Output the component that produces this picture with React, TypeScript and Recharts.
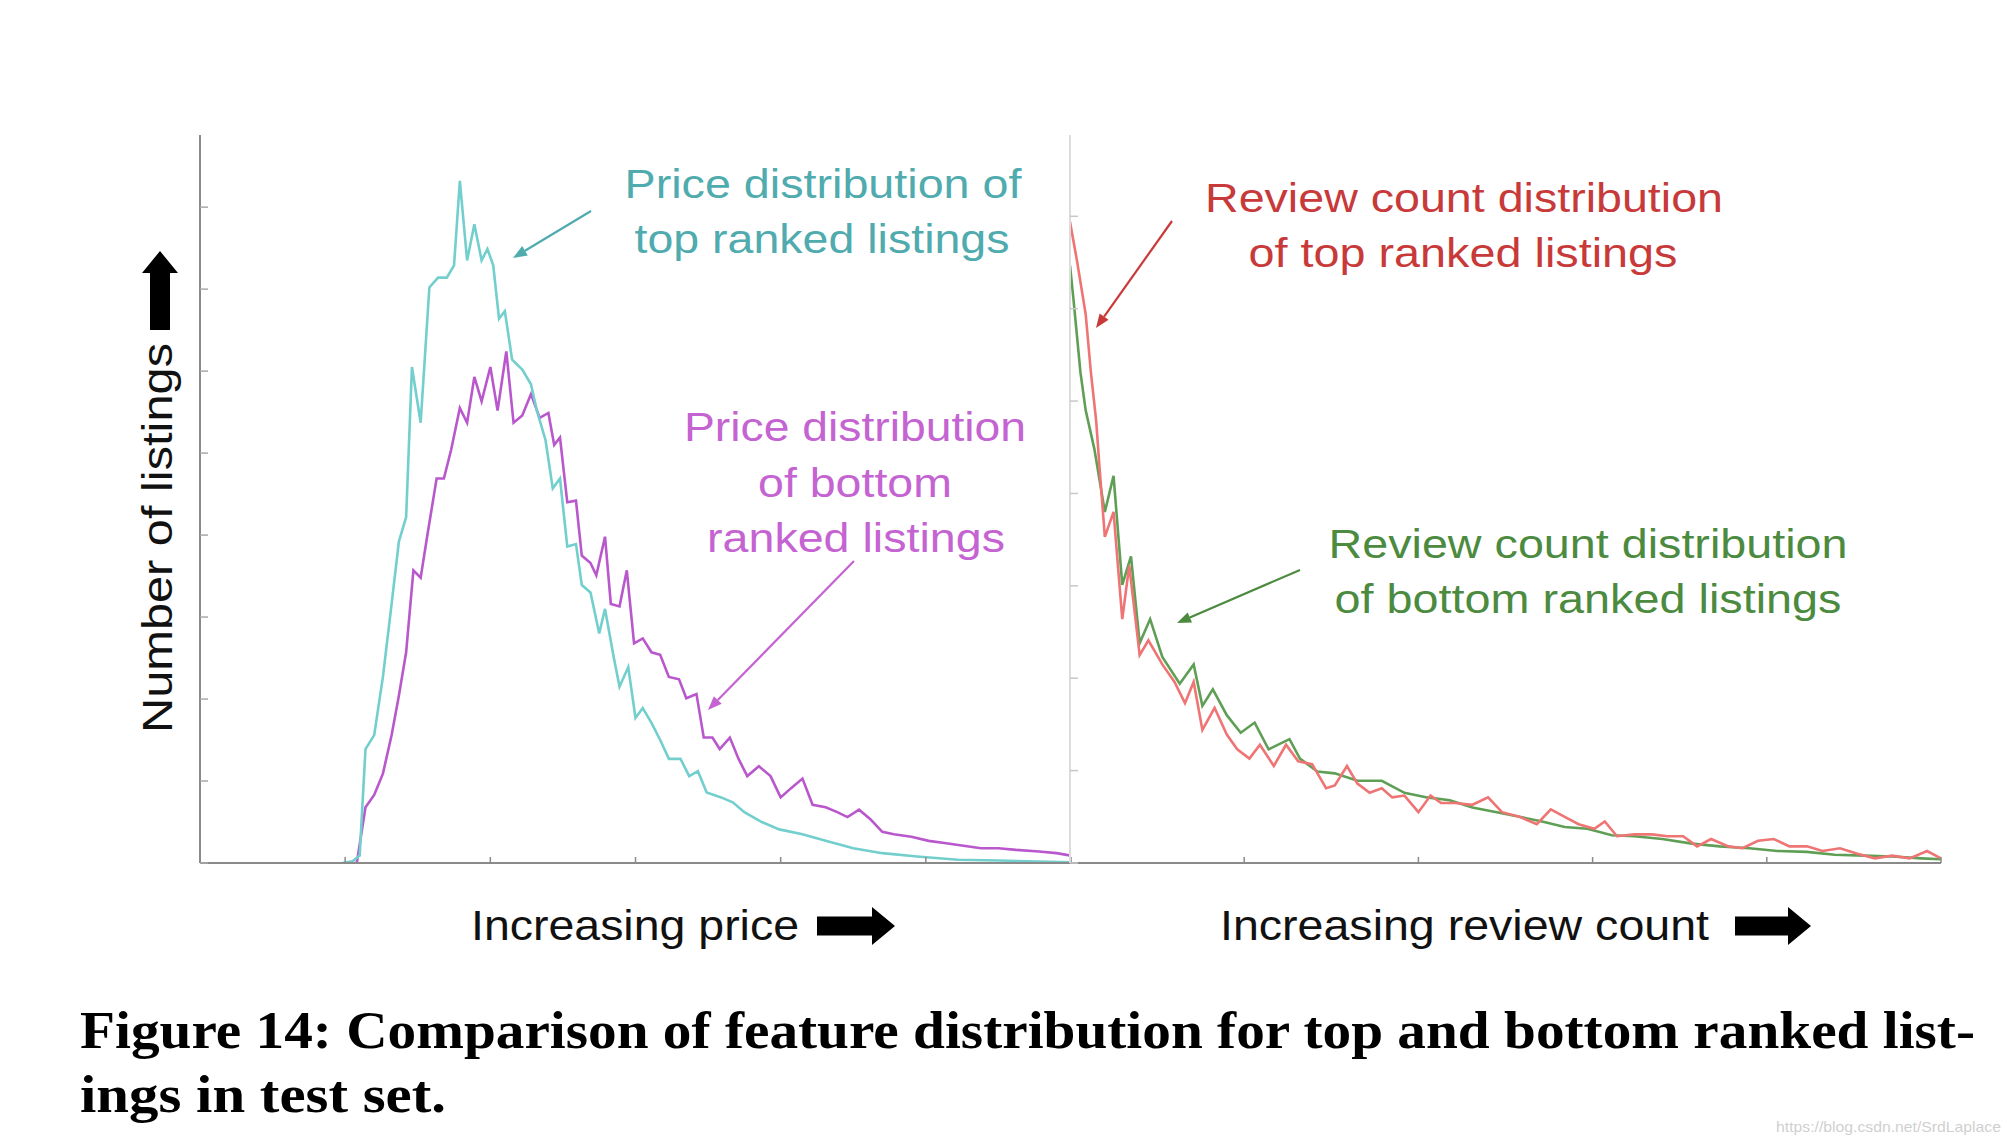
import React from 'react';
import { LineChart, Line, XAxis, YAxis } from 'recharts';

// price histogram (left panel): [x position, count], x in tick units 0..6
const topPrice: [number, number][] = [
  [0.98, 0], [1.05, 0.02], [1.1, 0.09], [1.14, 1.39], [1.2, 1.56], [1.26, 2.27], [1.32, 3.16],
  [1.37, 3.92], [1.42, 4.22], [1.46, 6.05], [1.52, 5.37], [1.58, 7.02], [1.64, 7.14], [1.7, 7.14],
  [1.75, 7.29], [1.79, 8.32], [1.84, 7.35], [1.89, 7.79], [1.94, 7.35], [1.98, 7.49], [2.02, 7.29],
  [2.06, 6.64], [2.1, 6.73], [2.15, 6.14], [2.22, 6.02], [2.28, 5.84], [2.32, 5.52], [2.38, 5.16],
  [2.43, 4.57], [2.48, 4.69], [2.53, 3.86], [2.59, 3.89], [2.63, 3.39], [2.69, 3.3], [2.75, 2.8],
  [2.79, 3.1], [2.85, 2.51], [2.89, 2.15], [2.95, 2.39], [3.0, 1.77], [3.05, 1.89], [3.11, 1.71],
  [3.17, 1.5], [3.23, 1.27], [3.31, 1.27], [3.37, 1.06], [3.43, 1.12], [3.49, 0.86], [3.59, 0.8],
  [3.67, 0.74], [3.75, 0.62], [3.87, 0.5], [3.99, 0.41], [4.15, 0.35], [4.31, 0.27], [4.5, 0.18],
  [4.7, 0.12], [4.94, 0.08], [5.22, 0.04], [5.5, 0.03], [6.0, 0.01],
];

const bottomPrice: [number, number][] = [
  [1.02, 0], [1.08, 0], [1.14, 0.68], [1.2, 0.83], [1.26, 1.09], [1.32, 1.56], [1.37, 2.04],
  [1.42, 2.57], [1.47, 3.57], [1.52, 3.48], [1.57, 4.04], [1.63, 4.69], [1.68, 4.69], [1.73, 5.04],
  [1.79, 5.55], [1.84, 5.37], [1.89, 5.93], [1.94, 5.63], [2.0, 6.05], [2.05, 5.52], [2.11, 6.24],
  [2.16, 5.37], [2.22, 5.46], [2.28, 5.72], [2.34, 5.43], [2.4, 5.49], [2.44, 5.1], [2.48, 5.19],
  [2.53, 4.4], [2.59, 4.42], [2.63, 3.75], [2.69, 3.66], [2.73, 3.51], [2.79, 3.98], [2.83, 3.16],
  [2.89, 3.13], [2.94, 3.57], [2.99, 2.68], [3.05, 2.74], [3.11, 2.57], [3.17, 2.54], [3.23, 2.27],
  [3.3, 2.24], [3.35, 2.01], [3.42, 2.06], [3.47, 1.53], [3.53, 1.53], [3.58, 1.39], [3.65, 1.53],
  [3.71, 1.27], [3.77, 1.06], [3.85, 1.18], [3.93, 1.06], [4.0, 0.8], [4.07, 0.91], [4.15, 1.03],
  [4.22, 0.71], [4.31, 0.68], [4.39, 0.62], [4.46, 0.56], [4.54, 0.65], [4.62, 0.53], [4.7, 0.38],
  [4.78, 0.35], [4.9, 0.32], [5.02, 0.27], [5.14, 0.24], [5.26, 0.21], [5.38, 0.18], [5.5, 0.18],
  [5.62, 0.16], [5.78, 0.14], [5.9, 0.12], [6.0, 0.09],
];

// review count histogram (right panel): x in tick units 0..5
const topReview: [number, number][] = [
  [0, 6.94], [0.04, 6.52], [0.09, 5.94], [0.12, 5.31], [0.15, 4.79], [0.17, 4.27], [0.2, 3.53],
  [0.25, 3.8], [0.3, 2.64], [0.34, 3.22], [0.4, 2.25], [0.45, 2.41], [0.53, 2.15], [0.6, 1.96],
  [0.66, 1.73], [0.71, 1.96], [0.76, 1.44], [0.83, 1.68], [0.9, 1.39], [0.96, 1.23], [1.03, 1.13],
  [1.09, 1.28], [1.17, 1.05], [1.24, 1.28], [1.31, 1.1], [1.39, 1.07], [1.47, 0.81], [1.52, 0.84],
  [1.59, 1.05], [1.65, 0.86], [1.72, 0.76], [1.79, 0.81], [1.85, 0.71], [1.92, 0.73], [2.0, 0.55],
  [2.07, 0.73], [2.13, 0.65], [2.21, 0.65], [2.31, 0.63], [2.4, 0.71], [2.48, 0.55], [2.58, 0.5],
  [2.68, 0.42], [2.76, 0.58], [2.84, 0.5], [2.92, 0.42], [3.01, 0.37], [3.07, 0.45], [3.14, 0.29],
  [3.24, 0.31], [3.34, 0.31], [3.43, 0.29], [3.52, 0.29], [3.6, 0.18], [3.68, 0.26], [3.78, 0.18],
  [3.86, 0.16], [3.95, 0.24], [4.04, 0.26], [4.13, 0.18], [4.23, 0.18], [4.32, 0.13], [4.42, 0.16],
  [4.52, 0.1], [4.62, 0.05], [4.72, 0.08], [4.82, 0.05], [4.92, 0.13], [5.0, 0.05],
];

const bottomReview: [number, number][] = [
  [0, 6.47], [0.02, 6.1], [0.06, 5.31], [0.09, 4.9], [0.14, 4.48], [0.2, 3.8], [0.25, 4.19],
  [0.3, 3.01], [0.35, 3.32], [0.4, 2.38], [0.46, 2.64], [0.53, 2.23], [0.63, 1.94], [0.71, 2.15],
  [0.76, 1.7], [0.82, 1.88], [0.9, 1.6], [0.98, 1.41], [1.06, 1.52], [1.14, 1.23], [1.26, 1.34],
  [1.32, 1.13], [1.42, 0.99], [1.52, 0.97], [1.65, 0.89], [1.79, 0.89], [1.92, 0.76], [2.05, 0.71],
  [2.18, 0.68], [2.31, 0.6], [2.45, 0.55], [2.58, 0.5], [2.71, 0.45], [2.84, 0.39], [2.97, 0.37],
  [3.11, 0.3], [3.24, 0.29], [3.4, 0.26], [3.57, 0.21], [3.73, 0.18], [3.9, 0.16], [4.06, 0.13],
  [4.23, 0.12], [4.39, 0.09], [4.56, 0.08], [4.72, 0.07], [4.89, 0.05], [5.0, 0.04],
];

const priceTicksX = [0, 1, 2, 3, 4, 5, 6];
const priceTicksY = [0, 1, 2, 3, 4, 5, 6, 7, 8];
const reviewTicksX = [0, 1, 2, 3, 4, 5];
const reviewTicksY = [0, 1, 2, 3, 4, 5, 6, 7];

const toRows = (pts: [number, number][]) => pts.map(([x, y]) => ({ x, y }));

const SANS = '"Liberation Sans", Arial, sans-serif';
const SERIF = '"Liberation Serif", "Times New Roman", serif';

// tick marks only, no tick labels
const NoLabel = () => <g />;

function Pointer({ x1, y1, x2, y2, color }: { x1: number; y1: number; x2: number; y2: number; color: string }) {
  // thin line with a small filled head at (x2, y2)
  const ang = Math.atan2(y2 - y1, x2 - x1);
  const len = 14;
  const half = 5.5;
  const bx = x2 - len * Math.cos(ang);
  const by = y2 - len * Math.sin(ang);
  const px = -Math.sin(ang) * half;
  const py = Math.cos(ang) * half;
  return (
    <g>
      <line x1={x1} y1={y1} x2={bx} y2={by} stroke={color} strokeWidth={2.2} />
      <polygon points={`${x2},${y2} ${bx + px},${by + py} ${bx - px},${by - py}`} fill={color} />
    </g>
  );
}

function Label({ x, y, w, color, children }: { x: number; y: number; w: number; color: string; children: string }) {
  return (
    <text
      x={x - w / 2}
      y={y}
      fill={color}
      fontFamily={SANS}
      fontSize={41}
      textLength={w}
      lengthAdjust="spacingAndGlyphs"
    >
      {children}
    </text>
  );
}

const chartBox = { position: 'absolute' as const, top: 125 };
// plot area starts 10px inside each chart box (9px margin + 1px axis)
const chartMargin = { top: 10, right: 10, bottom: 9, left: 9 };

export default function App() {
  return (
    <div style={{ position: 'absolute', left: 0, top: 0, width: 2012, height: 1140, background: '#fff' }}>
      {/* left panel: price */}
      <div style={{ ...chartBox, left: 191 }}>
        <LineChart width={890} height={747} margin={chartMargin}>
          <XAxis
            type="number"
            dataKey="x"
            domain={[0, 6]}
            ticks={priceTicksX}
            tick={NoLabel}
            mirror
            height={1}
            tickSize={6}
            tickLine={{ stroke: '#8a8a8a', strokeWidth: 1.5 }}
            stroke="#8a8a8a"
            strokeWidth={2}
            allowDataOverflow
          />
          <YAxis
            type="number"
            domain={[0, 8.88]}
            ticks={priceTicksY}
            tick={NoLabel}
            mirror
            width={1}
            tickSize={8}
            tickLine={{ stroke: '#a8a8a8', strokeWidth: 1.5 }}
            stroke="#8a8a8a"
            strokeWidth={2}
            allowDataOverflow
          />
          <Line data={toRows(bottomPrice)} dataKey="y" type="linear" stroke="#b957cc" strokeWidth={2.6} dot={false} isAnimationActive={false} />
          <Line data={toRows(topPrice)} dataKey="y" type="linear" stroke="#72cfcd" strokeWidth={2.6} dot={false} isAnimationActive={false} />
        </LineChart>
      </div>

      {/* right panel: review count */}
      <div style={{ ...chartBox, left: 1061 }}>
        <LineChart width={890} height={747} margin={chartMargin}>
          <XAxis
            type="number"
            dataKey="x"
            domain={[0, 5]}
            ticks={reviewTicksX}
            tick={NoLabel}
            mirror
            height={1}
            tickSize={6}
            tickLine={{ stroke: '#8a8a8a', strokeWidth: 1.5 }}
            stroke="#8a8a8a"
            strokeWidth={2}
            allowDataOverflow
          />
          <YAxis
            type="number"
            domain={[0, 7.88]}
            ticks={reviewTicksY}
            tick={NoLabel}
            mirror
            width={1}
            tickSize={8}
            tickLine={{ stroke: '#c8c8c8', strokeWidth: 1.5 }}
            stroke="#dcdcdc"
            strokeWidth={2}
            allowDataOverflow
          />
          <Line data={toRows(bottomReview)} dataKey="y" type="linear" stroke="#5f9f55" strokeWidth={2.6} dot={false} isAnimationActive={false} />
          <Line data={toRows(topReview)} dataKey="y" type="linear" stroke="#ef7474" strokeWidth={2.6} dot={false} isAnimationActive={false} />
        </LineChart>
      </div>

      {/* annotations, axis captions and figure caption */}
      <svg width={2012} height={1140} style={{ position: 'absolute', left: 0, top: 0, pointerEvents: 'none' }}>
        <polygon points="160,251 142,273 150,273 150,330 170,330 170,273 178,273" fill="#000" />
        <text
          x={172}
          y={733}
          transform="rotate(-90 172 733)"
          fontFamily={SANS}
          fontSize={42}
          fill="#111"
          textLength={390}
          lengthAdjust="spacingAndGlyphs"
        >
          Number of listings
        </text>

        <Label x={823} y={198} w={397} color="#4fabae">Price distribution of</Label>
        <Label x={822} y={253} w={375} color="#4fabae">top ranked listings</Label>
        <Pointer x1={591} y1={211} x2={513} y2={258} color="#4fabae" />

        <Label x={855} y={441} w={342} color="#c463d1">Price distribution</Label>
        <Label x={855} y={497} w={194} color="#c463d1">of bottom</Label>
        <Label x={856} y={552} w={298} color="#c463d1">ranked listings</Label>
        <Pointer x1={854} y1={561} x2={708} y2={710} color="#c463d1" />

        <Label x={1464} y={212} w={518} color="#c83a3a">Review count distribution</Label>
        <Label x={1463} y={267} w={429} color="#c83a3a">of top ranked listings</Label>
        <Pointer x1={1172} y1={221} x2={1096} y2={328} color="#c83a3a" />

        <Label x={1588} y={558} w={519} color="#4c8b3f">Review count distribution</Label>
        <Label x={1588} y={613} w={507} color="#4c8b3f">of bottom ranked listings</Label>
        <Pointer x1={1300} y1={570} x2={1177} y2={623} color="#4c8b3f" />

        <text x={471} y={940} fontFamily={SANS} fontSize={42} fill="#111" textLength={328} lengthAdjust="spacingAndGlyphs">
          Increasing price
        </text>
        <polygon points="817,916.5 872,916.5 872,907 895,926 872,945 872,935.5 817,935.5" fill="#000" />
        <text x={1220} y={940} fontFamily={SANS} fontSize={42} fill="#111" textLength={489} lengthAdjust="spacingAndGlyphs">
          Increasing review count
        </text>
        <polygon points="1735,916.5 1788,916.5 1788,907 1811,926 1788,945 1788,935.5 1735,935.5" fill="#000" />

        <text x={80} y={1048} fontFamily={SERIF} fontWeight="bold" fontSize={52} fill="#000" textLength={1895} lengthAdjust="spacingAndGlyphs">
          Figure 14: Comparison of feature distribution for top and bottom ranked list-
        </text>
        <text x={80} y={1112} fontFamily={SERIF} fontWeight="bold" fontSize={52} fill="#000" textLength={366} lengthAdjust="spacingAndGlyphs">
          ings in test set.
        </text>
        <text x={1776} y={1132} fontFamily={SANS} fontSize={15} fill="#d0d0d0" textLength={225} lengthAdjust="spacingAndGlyphs">
          https://blog.csdn.net/SrdLaplace
        </text>
      </svg>
    </div>
  );
}
